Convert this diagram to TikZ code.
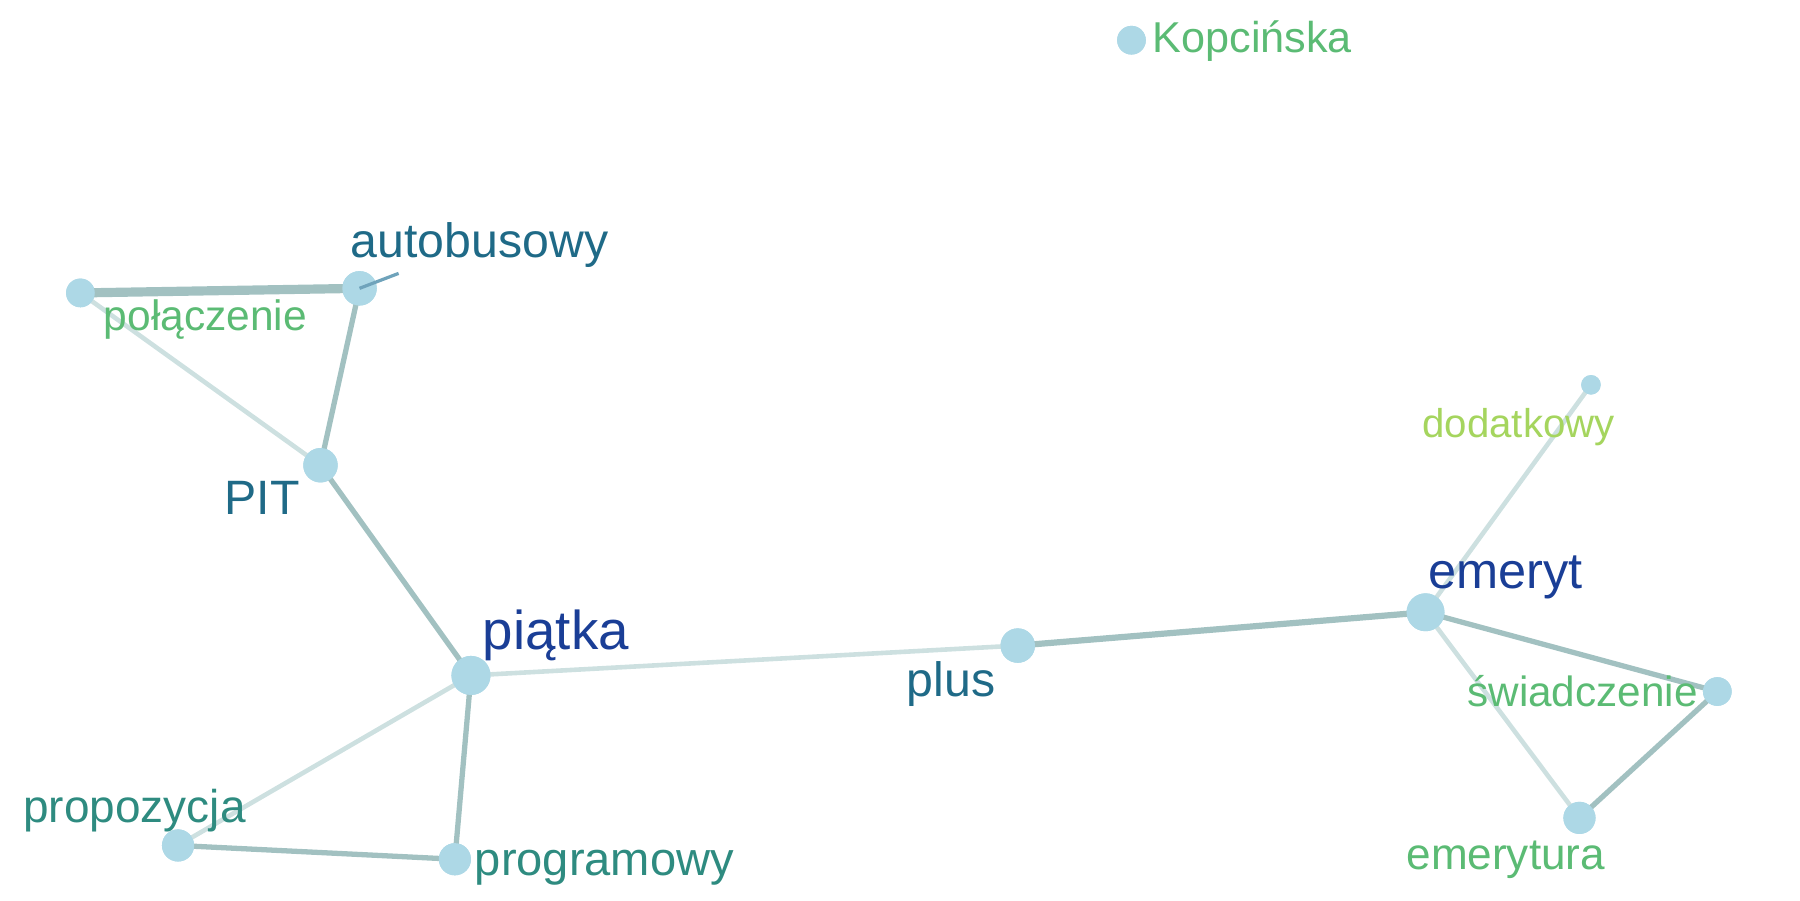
\documentclass[tikz,border=0pt]{standalone}
\usepackage{fontspec}
\setmainfont{Liberation Sans}
\definecolor{nodefill}{HTML}{ADD8E6}
\definecolor{edark}{HTML}{A2C1C1}
\definecolor{elight}{HTML}{CDE0E0}
\definecolor{estub}{HTML}{6FA3BB}
\definecolor{cblue}{HTML}{1A3E96}
\definecolor{cteal}{HTML}{1F6A87}
\definecolor{ctgreen}{HTML}{2E8B80}
\definecolor{cgreen}{HTML}{5BBB74}
\definecolor{clgreen}{HTML}{A5D55E}
\begin{document}
\begin{tikzpicture}[x=0.5pt,y=-0.5pt,
  vtx/.style={circle,fill=nodefill,draw=none,inner sep=0pt,minimum size=#1},
  lbl/.style={anchor=base west,inner sep=0pt,text=#1},
  strong/.style={draw=edark,line width=2.3pt},
  weak/.style={draw=elight,line width=2pt},
  fat/.style={draw=edark,line width=4pt}]
\useasboundingbox (0,0) rectangle (1567,783.5);
% vertices
\node[vtx=12.5pt] (kop) at (985,35) {};
\node[vtx=15pt] (aut) at (313,251) {};
\node[vtx=12.5pt] (pol) at (70,255) {};
\node[vtx=15pt] (pit) at (279,405) {};
\node[vtx=17pt] (pia) at (410,588) {};
\node[vtx=15pt] (plu) at (886,562) {};
\node[vtx=16.5pt] (eme) at (1241,533) {};
\node[vtx=8.5pt] (dod) at (1385,335) {};
\node[vtx=12.5pt] (swi) at (1495,602) {};
\node[vtx=14pt] (emt) at (1375,712) {};
\node[vtx=14pt] (pro) at (155,736) {};
\node[vtx=14pt] (prg) at (396,748) {};
\coordinate (stub) at (347,238);
% edges
\path[fat] (pol.center) -- (aut.center);
\path[weak] (pol.center) -- (pit.center);
\path[strong] (aut.center) -- (pit.center);
\path[strong] (pit.center) -- (pia.center);
\path[weak] (pia.center) -- (plu.center);
\path[draw=edark,line width=2.7pt] (plu.center) -- (eme.center);
\path[weak] (pia.center) -- (pro.center);
\path[strong] (pia.center) -- (prg.center);
\path[strong] (pro.center) -- (prg.center);
\path[weak] (eme.center) -- (dod.center);
\path[strong] (eme.center) -- (swi.center);
\path[weak] (eme.center) -- (emt.center);
\path[strong] (swi.center) -- (emt.center);
% vertices drawn over the edges
\foreach \n/\s in {kop/12.5pt,aut/15pt,pol/12.5pt,pit/15pt,pia/17pt,plu/15pt,eme/16.5pt,dod/8.5pt,swi/12.5pt,emt/14pt,pro/14pt,prg/14pt}
  \fill[nodefill] (\n.center) circle[radius=\s/2];
\path[draw=estub,line width=1.4pt] (aut.center) -- (stub);
% labels
\node[lbl=cgreen,font=\fontsize{18.8pt}{20pt}\selectfont] (tkop) at (1003,46) {Kopcińska};
\node[lbl=cteal,font=\fontsize{21pt}{23pt}\selectfont] (taut) at (305,224) {autobusowy};
\node[lbl=cgreen,font=\fontsize{18.5pt}{20pt}\selectfont] (tpol) at (90,288) {połączenie};
\node[lbl=cteal,font=\fontsize{21pt}{23pt}\selectfont] (tpit) at (195,448) {PIT};
\node[lbl=cblue,font=\fontsize{23.8pt}{26pt}\selectfont] (tpia) at (420,565) {piątka};
\node[lbl=cteal,font=\fontsize{21pt}{23pt}\selectfont] (tplu) at (789,606) {plus};
\node[lbl=cblue,font=\fontsize{22pt}{24pt}\selectfont] (teme) at (1243,512) {emeryt};
\node[lbl=clgreen,font=\fontsize{17.5pt}{19pt}\selectfont] (tdod) at (1238,381) {dodatkowy};
\node[lbl=cgreen,font=\fontsize{18.4pt}{20pt}\selectfont] (tswi) at (1277,615) {świadczenie};
\node[lbl=cgreen,font=\fontsize{19.2pt}{21pt}\selectfont] (temt) at (1224,757) {emerytura};
\node[lbl=ctgreen,font=\fontsize{20pt}{22pt}\selectfont] (tpro) at (20,716) {propozycja};
\node[lbl=ctgreen,font=\fontsize{20.5pt}{22pt}\selectfont] (tprg) at (413,762) {programowy};
\end{tikzpicture}
\end{document}
